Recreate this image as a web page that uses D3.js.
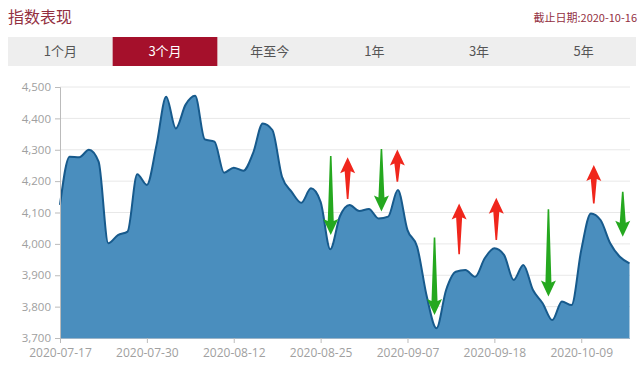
<!DOCTYPE html>
<html>
<head>
<meta charset="utf-8">
<script src="https://cdn.jsdelivr.net/npm/d3@7"></script>
<style>
  body { margin: 0; background: #fff; }
  svg text { font-family: "Open Sans", "Noto Sans CJK SC", sans-serif; }
</style>
</head>
<body>
<div id="chart"></div>
<script>
// trading dates (category axis)
var dates = ["2020-07-17",
  "2020-07-20","2020-07-21","2020-07-22","2020-07-23","2020-07-24",
  "2020-07-27","2020-07-28","2020-07-29","2020-07-30","2020-07-31",
  "2020-08-03","2020-08-04","2020-08-05","2020-08-06","2020-08-07",
  "2020-08-10","2020-08-11","2020-08-12","2020-08-13","2020-08-14",
  "2020-08-17","2020-08-18","2020-08-19","2020-08-20","2020-08-21",
  "2020-08-24","2020-08-25","2020-08-26","2020-08-27","2020-08-28",
  "2020-08-31","2020-09-01","2020-09-02","2020-09-03","2020-09-04",
  "2020-09-07","2020-09-08","2020-09-09","2020-09-10","2020-09-11",
  "2020-09-14","2020-09-15","2020-09-16","2020-09-17","2020-09-18",
  "2020-09-21","2020-09-22","2020-09-23","2020-09-24","2020-09-25",
  "2020-09-28","2020-09-29","2020-09-30","2020-10-09",
  "2020-10-12","2020-10-13","2020-10-14","2020-10-15","2020-10-16"];

// index close values
var values = [4124, 4278, 4276, 4300, 4262, 4002, 4028, 4039, 4222, 4188,
  4315, 4469, 4368, 4443, 4472, 4333, 4326, 4227, 4243, 4233,
  4289, 4384, 4363, 4214, 4166, 4131, 4177, 4134, 3983, 4088,
  4124, 4105, 4111, 4081, 4087, 4172, 4044, 3991, 3832, 3731,
  3853, 3911, 3917, 3895, 3954, 3986, 3965, 3885, 3933, 3853,
  3811, 3757, 3816, 3805, 3980, 4097, 4076, 4002, 3959, 3938];

var yTicks = [3700, 3800, 3900, 4000, 4100, 4200, 4300, 4400, 4500];
var xTickIdx = [0, 9, 18, 27, 36, 45, 54];

var tabs = ["1个月", "3个月", "年至今", "1年", "3年", "5年"];
var activeTab = 1;

// signal arrows: position (index), tail value, tip value
var sellPos  = [28.05, 33.3, 38.8, 50.6, 58.3];
var sellFrom = [4280, 4302, 4020, 4110, 4166];
var sellTo   = [4028, 4103, 3773, 3832, 4023];
var buyPos   = [29.8, 34.95, 41.35, 45.2, 55.3];
var buyFrom  = [4143, 4198, 3967, 4012, 4129];
var buyTo    = [4276, 4301, 4129, 4147, 4251];

var W = 640, H = 365;
var svg = d3.select("#chart").append("svg")
  .attr("width", W).attr("height", H);

// header
svg.append("text")
  .attr("x", 8).attr("y", 23)
  .attr("fill", "#93303f")
  .style("font-family", "'Noto Sans CJK SC', sans-serif")
  .style("font-size", "16px")
  .text("指数表现");
svg.append("text")
  .attr("x", 637).attr("y", 22)
  .attr("text-anchor", "end")
  .attr("fill", "#93303f")
  .style("font-family", "'Noto Sans CJK SC', sans-serif")
  .style("font-size", "11px")
  .text("截止日期:2020-10-16");

// tab bar
var tabX = d3.scaleBand().domain(d3.range(tabs.length)).range([8, 636]);
svg.append("rect")
  .attr("x", 8).attr("y", 37).attr("width", 628).attr("height", 29)
  .attr("fill", "#eeeeee");
svg.append("rect")
  .attr("x", tabX(activeTab)).attr("y", 37)
  .attr("width", tabX.bandwidth()).attr("height", 29)
  .attr("fill", "#a5102b");
svg.selectAll(".tab")
  .data(tabs)
  .enter().append("text")
  .attr("x", function(d, i) { return tabX(i) + tabX.bandwidth() / 2; })
  .attr("y", 56)
  .attr("text-anchor", "middle")
  .attr("fill", function(d, i) { return i == activeTab ? "#ffffff" : "#555555"; })
  .style("font-family", "'Noto Sans CJK SC', sans-serif")
  .style("font-size", "13px")
  .text(function(d) { return d; });

// chart area
var x = d3.scaleLinear().domain([0, dates.length - 1]).range([60, 629.5]);
var y = d3.scaleLinear().domain([3700, 4500]).range([338, 87]);

// grid
svg.selectAll(".grid")
  .data(yTicks.slice(1))
  .enter().append("line")
  .attr("x1", 60).attr("x2", 630)
  .attr("y1", function(d) { return y(d); })
  .attr("y2", function(d) { return y(d); })
  .attr("stroke", "#e8e8e8");

// area + line
var area = d3.area()
  .x(function(d, i) { return x(i); })
  .y0(y(3700))
  .y1(function(d) { return y(d); })
  .curve(d3.curveMonotoneX);
var line = d3.line()
  .x(function(d, i) { return x(i); })
  .y(function(d) { return y(d); })
  .curve(d3.curveMonotoneX);

svg.append("path")
  .datum(values)
  .attr("fill", "#4a8ebe")
  .attr("d", area);
svg.append("path")
  .datum(values)
  .attr("fill", "none")
  .attr("stroke", "#175a8c")
  .attr("stroke-width", 2)
  .attr("d", line);

// y axis
var yAxis = svg.append("g")
  .attr("transform", "translate(60,0)")
  .call(d3.axisLeft(y).tickValues(yTicks).tickSize(5).tickPadding(4).tickFormat(d3.format(",")));
yAxis.select(".domain").attr("stroke", "#bbbbbb");
yAxis.selectAll(".tick line").attr("stroke", "#bbbbbb");
yAxis.selectAll("text").attr("fill", "#a0a0a0").style("font-size", "11.5px");

// x axis
var xAxis = svg.append("g")
  .attr("transform", "translate(0,338)")
  .call(d3.axisBottom(x).tickValues(xTickIdx).tickSize(5).tickPadding(5)
    .tickFormat(function(i) { return dates[i]; }));
xAxis.select(".domain").attr("stroke", "#9bb4c8").attr("d", "M60,0.5H630");
xAxis.selectAll(".tick line").attr("stroke", "#bbbbbb");
xAxis.selectAll("text").attr("fill", "#a0a0a0").style("font-size", "12px");

// arrow shape: from (x, y0) tail to (x, y1) tip
function arrowPath(px, y0, y1) {
  var dir = y1 > y0 ? 1 : -1;
  var len = Math.abs(y1 - y0);
  var head = Math.min(14, len * 0.45);
  var hb = y1 - dir * head;
  return "M" + (px - 0.8) + "," + y0 +
    "L" + (px - 3) + "," + (hb) +
    "L" + (px - 7.5) + "," + (hb - dir * 2) +
    "L" + px + "," + y1 +
    "L" + (px + 7.5) + "," + (hb - dir * 2) +
    "L" + (px + 3) + "," + (hb) +
    "L" + (px + 0.8) + "," + y0 + "Z";
}

svg.selectAll(".sell")
  .data(sellPos)
  .enter().append("path")
  .attr("fill", "#25a81f")
  .attr("d", function(d, i) { return arrowPath(x(d), y(sellFrom[i]), y(sellTo[i])); });
svg.selectAll(".buy")
  .data(buyPos)
  .enter().append("path")
  .attr("fill", "#f0261c")
  .attr("d", function(d, i) { return arrowPath(x(d), y(buyFrom[i]), y(buyTo[i])); });
</script>
</body>
</html>
